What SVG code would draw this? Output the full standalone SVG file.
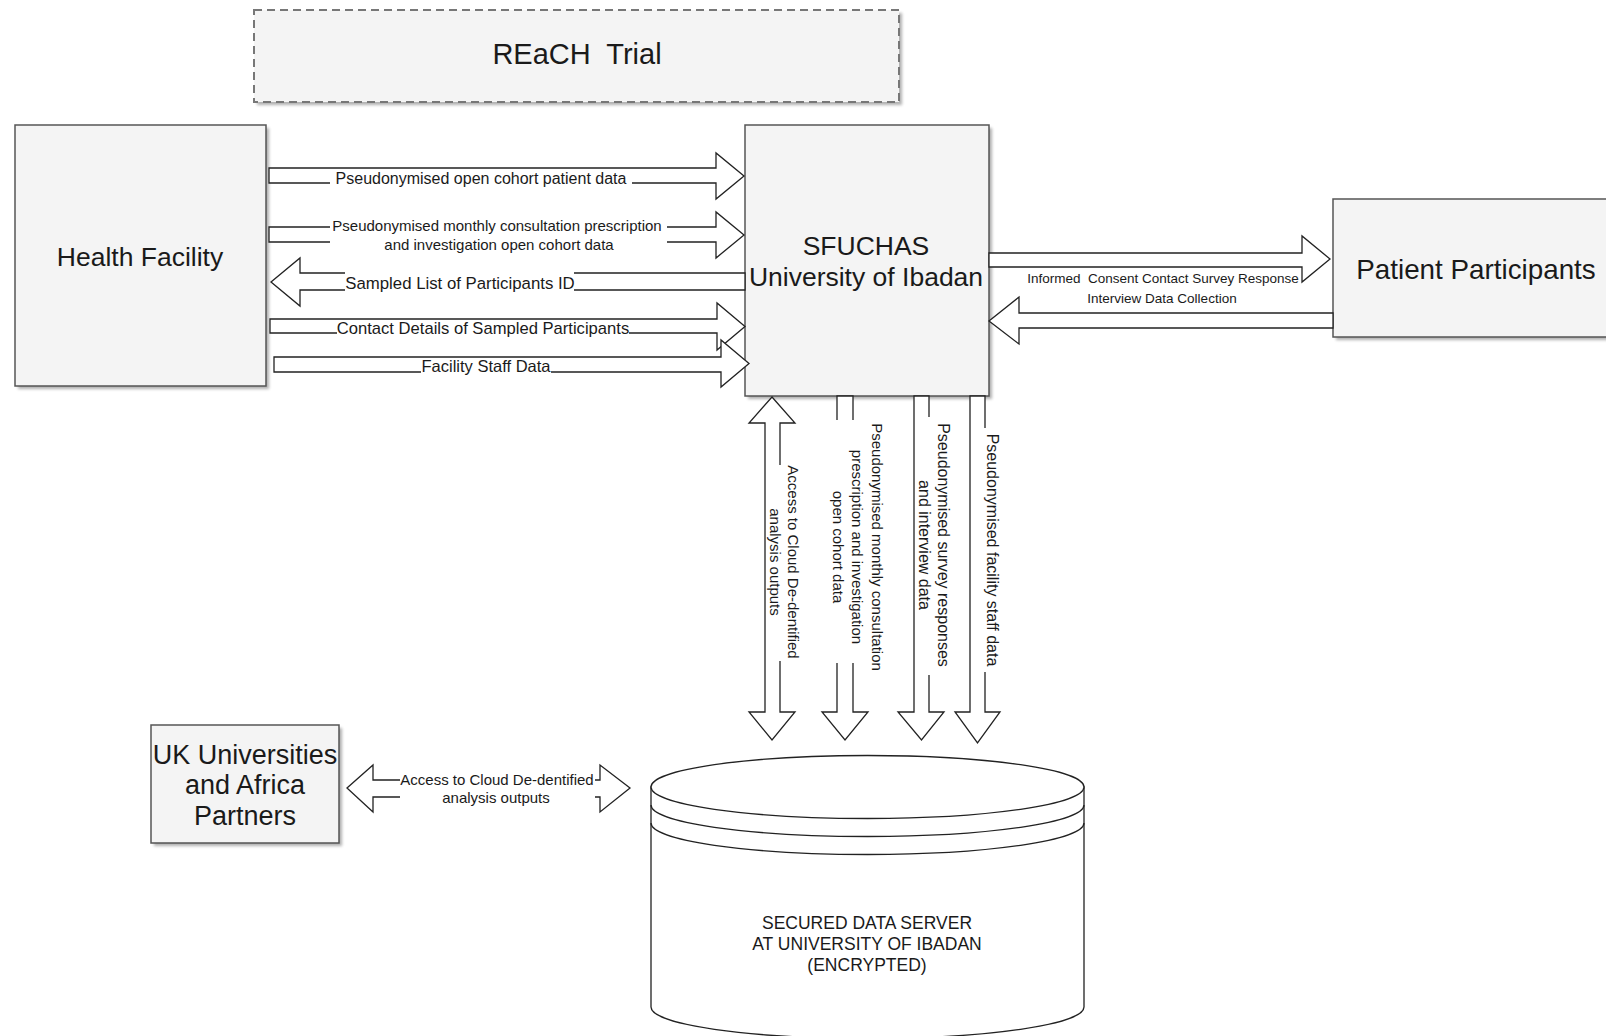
<svg xmlns="http://www.w3.org/2000/svg" width="1606" height="1036" viewBox="0 0 1606 1036">
<style>
.box{fill:#f4f4f4;stroke:#555;stroke-width:1.5}
.shadow{fill:#b0b0b0;filter:url(#blur)}
.arrow{fill:#fff;stroke:#222;stroke-width:1.3;stroke-linejoin:miter}
.bg{fill:#fff}
text{font-family:"Liberation Sans",Arial,Helvetica,sans-serif;fill:#1a1a1a;text-anchor:middle;dominant-baseline:central}
.big{font-size:26.5px}
.lbl{font-size:16px}
</style>
<defs>
<filter id="blur" x="-5%" y="-5%" width="110%" height="110%"><feGaussianBlur stdDeviation="1.5"/></filter>
</defs>
<rect width="1606" height="1036" fill="#fff"/>

<g id="reach-trial">
<rect class="shadow" x="257" y="13" width="645" height="92"/>
<rect x="254" y="10" width="645" height="92" fill="#f4f4f4" stroke="#777" stroke-width="2" stroke-dasharray="8 5"/>
<text x="577" y="54" font-size="29" xml:space="preserve">REaCH  Trial</text>
</g>

<g id="health-facility">
<rect class="shadow" x="18" y="128" width="251" height="261"/>
<rect class="box" x="15" y="125" width="251" height="261"/>
<text class="big" x="140" y="257">Health Facility</text>
</g>

<g id="sfuchas">
<rect class="shadow" x="748" y="128" width="244" height="271"/>
<rect class="box" x="745" y="125" width="244" height="271"/>
<text class="big" x="866" y="246">SFUCHAS</text>
<text class="big" x="866" y="277">University of Ibadan</text>
</g>

<g id="patient-participants">
<rect class="shadow" x="1336" y="202" width="290" height="138"/>
<rect class="box" x="1333" y="199" width="290" height="138"/>
<text x="1476" y="269" font-size="27.8">Patient Participants</text>
</g>

<g id="uk-partners">
<rect class="shadow" x="154" y="728" width="188" height="118"/>
<rect class="box" x="151" y="725" width="188" height="118"/>
<text x="245" y="755" font-size="27">UK Universities</text>
<text x="245" y="785" font-size="27">and Africa</text>
<text x="245" y="816" font-size="27">Partners</text>
</g>

<g id="data-server">
<path d="M651,787 L651,1007 A216.5,31.5 0 0 0 1084,1007 L1084,787 Z" fill="#fff" stroke="#222" stroke-width="1.3"/>
<ellipse cx="867.5" cy="787" rx="216.5" ry="31.5" fill="#fff" stroke="#222" stroke-width="1.3"/>
<path d="M651,805 A216.5,31.5 0 0 0 1084,805 M651,823 A216.5,31.5 0 0 0 1084,823" fill="none" stroke="#222" stroke-width="1.3"/>
<text x="867" y="923" font-size="17.5">SECURED DATA SERVER</text>
<text x="867" y="944" font-size="17.5">AT UNIVERSITY OF IBADAN</text>
<text x="867" y="965" font-size="17.5">(ENCRYPTED)</text>
</g>

<g id="connectors">
<g id="c1">
<polygon class="arrow" points="269,168 716,168 716,153 744,176 716,199 716,183 269,183"/>
<rect class="bg" x="330" y="170.5" width="302" height="17"/>
<text class="lbl" x="481" y="178">Pseudonymised open cohort patient data</text>
</g>
<g id="c2">
<polygon class="arrow" points="269,227 716,227 716,212 744,235 716,258 716,242 269,242"/>
<rect class="bg" x="330" y="215" width="337" height="38"/>
<text x="497" y="225" font-size="15">Pseudonymised monthly consultation prescription</text>
<text x="499" y="244" font-size="15">and investigation open cohort data</text>
</g>
<g id="c3">
<polygon class="arrow" points="745,273 300,273 300,258 271,282 300,306 300,290 745,290"/>
<rect class="bg" x="345" y="272" width="229" height="20"/>
<text x="460" y="283" font-size="16.8">Sampled List of Participants ID</text>
</g>
<g id="c4">
<polygon class="arrow" points="270,319 717,319 717,303 745,326.5 717,350 717,333 270,333"/>
<rect class="bg" x="337" y="320.5" width="292" height="16"/>
<text x="483" y="328" font-size="16.6">Contact Details of Sampled Participants</text>
</g>
<g id="c5">
<polygon class="arrow" points="274,357 721,357 721,340 749,363.5 721,387 721,372 274,372"/>
<rect class="bg" x="421" y="358.5" width="130" height="16"/>
<text x="486" y="366" font-size="16.5">Facility Staff Data</text>
</g>
<g id="c6">
<polygon class="arrow" points="989,253 1302,253 1302,236 1330,259 1302,282 1302,267 989,267"/>
<polygon class="arrow" points="1333,313 1019,313 1019,297 989,321 1019,344 1019,328 1333,328"/>
<text x="1163" y="278" font-size="13.5" xml:space="preserve">Informed  Consent Contact Survey Response</text>
<text x="1162" y="298" font-size="13.5">Interview Data Collection</text>
</g>
<g id="c7">
<polygon class="arrow" points="772,397 795,423 780,423 780,712 795,712 772,740 749,712 765,712 765,423 749,423"/>
<rect class="bg" x="767.5" y="465" width="34" height="196"/>
<g transform="translate(784,562) rotate(90)">
<text x="0" y="-9" font-size="15">Access to Cloud De-dentified</text>
<text x="0" y="9" font-size="15">analysis outputs</text>
</g>
</g>
<g id="c8">
<polygon class="arrow" points="837,396 853,396 853,712 868,712 845,740 822,712 837,712"/>
<rect class="bg" x="828" y="420" width="59" height="243"/>
<g transform="translate(857,547) rotate(90)">
<text x="0" y="-20" font-size="15">Pseudonymised monthly consultation</text>
<text x="0" y="0" font-size="15">prescription and investigation</text>
<text x="0" y="19" font-size="15">open cohort data</text>
</g>
</g>
<g id="c9">
<polygon class="arrow" points="914,396 929,396 929,712 944,712 921.5,740 898,712 914,712"/>
<rect class="bg" x="916" y="417" width="37" height="258"/>
<g transform="translate(933.5,545) rotate(90)">
<text x="0" y="-9.5" font-size="16">Pseudonymised survey responses</text>
<text x="0" y="9.5" font-size="16">and interview data</text>
</g>
</g>
<g id="c10">
<polygon class="arrow" points="970,396 985,396 985,712 1000,712 977.5,743 955,712 970,712"/>
<rect class="bg" x="983.5" y="428" width="18" height="244"/>
<text transform="translate(992,550) rotate(90)" x="0" y="0" font-size="16">Pseudonymised facility staff data</text>
</g>
<g id="c11">
<polygon class="arrow" points="347,788 373,765 373,780 600,780 600,765 630,788 600,812 600,797 373,797 373,812"/>
<rect class="bg" x="400" y="771" width="195" height="34"/>
<text x="497" y="779" font-size="15">Access to Cloud De-dentified</text>
<text x="496" y="797" font-size="15">analysis outputs</text>
</g>
</g>
</svg>
